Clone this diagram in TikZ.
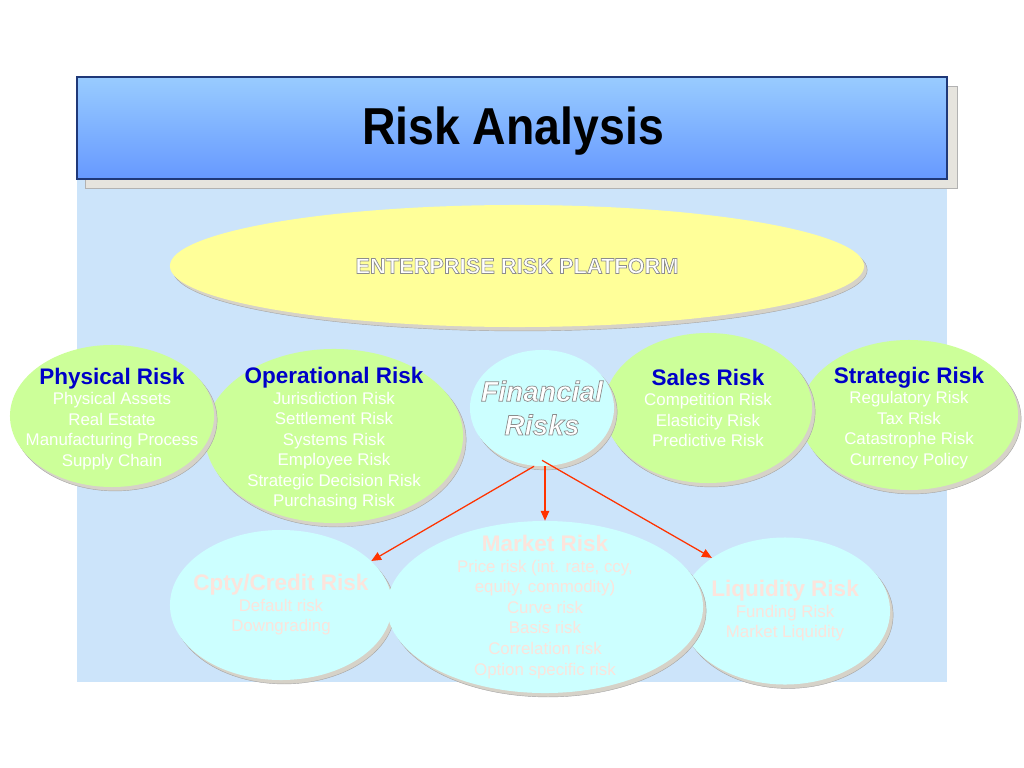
\documentclass[tikz,border=0pt]{standalone}
\usepackage{fontspec}
\setmainfont{Liberation Sans}
\usetikzlibrary{shapes.geometric,shadows,arrows.meta}

\definecolor{panelblue}{RGB}{204,228,250}
\definecolor{bartop}{RGB}{153,204,255}
\definecolor{barbottom}{RGB}{102,153,255}
\definecolor{barline}{RGB}{31,56,120}
\definecolor{shadowgray}{RGB}{214,210,200}
\definecolor{platyellow}{RGB}{255,255,153}
\definecolor{riskgreen}{RGB}{204,255,153}
\definecolor{riskcyan}{RGB}{204,255,255}
\definecolor{headblue}{RGB}{0,0,200}
\definecolor{palepink}{RGB}{252,228,220}
\definecolor{arrowred}{RGB}{255,51,0}

\tikzset{
  blob/.style={ellipse, inner sep=0pt,
    drop shadow={shadow xshift=2.2pt, shadow yshift=-2.8pt, fill=shadowgray, draw=gray!70, line width=0.3pt, opacity=1}},
  greenblob/.style={blob, fill=riskgreen},
  cyanblob/.style={blob, fill=riskcyan},
  itemtext/.style={align=center, text=white, font=\fontsize{12}{14.6}\selectfont},
  paletext/.style={itemtext, text=palepink},
  fanout/.style={draw=arrowred, line width=0.9pt, -{Triangle[length=7pt,width=6pt]}}
}
\newcommand{\headline}[1]{{\color{headblue}\fontsize{16}{19}\selectfont\bfseries #1}}
\newcommand{\palehead}[1]{{\fontsize{16}{19}\selectfont\bfseries #1}}
\newcommand{\outlined}[1]{\special{pdf:literal direct 2 Tr 0.5 w 0.55 0.55 0.55 RG}#1\special{pdf:literal direct 0 Tr}}

\begin{document}
\begin{tikzpicture}[x=0.025cm, y=-0.025cm]
\useasboundingbox (0,0) rectangle (1024,768);

% panel and title bar
\fill[panelblue] (77,179) rectangle (947,682);
\filldraw[fill=shadowgray!60, draw=gray!60] (85,86) rectangle (957,188);
\shadedraw[top color=bartop, bottom color=barbottom, draw=barline, line width=0.8pt] (77,77) rectangle (947,179);
\node[font=\fontsize{33}{36}\selectfont\bfseries] (title) at (513,131) {\scalebox{1}[1.12]{Risk Analysis}};

% platform
\node[blob, fill=platyellow, minimum width=17.35cm, minimum height=3.05cm] (erp) at (517,266) {};
\node[text=white, font=\fontsize{15.5}{18}\selectfont\bfseries] (erp-txt) at (erp) {\outlined{ENTERPRISE RISK PLATFORM}};

% upper row
\node[greenblob, minimum width=6.45cm, minimum height=4.35cm] (oper) at (334,436) {};
\node[greenblob, minimum width=5.1cm, minimum height=3.55cm] (phys) at (112,416) {};
\node[greenblob, minimum width=5.45cm, minimum height=3.75cm] (strat) at (909,415) {};
\node[greenblob, minimum width=5.2cm, minimum height=3.75cm] (sales) at (708,408) {};
\node[cyanblob, minimum width=3.6cm, minimum height=2.9cm] (fin) at (542,408) {};

\node[itemtext] (oper-txt) at ([yshift=-2pt]oper) {\headline{Operational Risk}\\ Jurisdiction Risk\\ Settlement Risk\\ Systems Risk\\ Employee Risk\\ Strategic Decision Risk\\ Purchasing Risk};
\node[itemtext] (phys-txt) at ([yshift=-2pt]phys) {\headline{Physical Risk}\\ Physical Assets\\ Real Estate\\ Manufacturing Process\\ Supply Chain};
\node[itemtext] (strat-txt) at ([yshift=-2pt]strat) {\headline{Strategic Risk}\\ Regulatory Risk\\ Tax Risk\\ Catastrophe Risk\\ Currency Policy};
\node[itemtext] (sales-txt) at (sales) {\headline{Sales Risk}\\ Competition Risk\\ Elasticity Risk\\ Predictive Risk};
\node[align=center, text=white, font=\fontsize{20}{24}\selectfont\bfseries\itshape] (fin-txt) at (fin) {\outlined{Financial}\\ \outlined{Risks}};

% lower row
\node[cyanblob, minimum width=5.55cm, minimum height=3.75cm] (cpty) at (281,605) {};
\node[cyanblob, minimum width=5.25cm, minimum height=3.675cm] (liq) at (785,611) {};
\node[cyanblob, minimum width=7.9cm, minimum height=4.3cm] (market) at (545,607) {};

\node[paletext] (cpty-txt) at (cpty) {\palehead{Cpty/Credit Risk}\\ Default risk\\ Downgrading};
\node[paletext] (liq-txt) at (liq) {\palehead{Liquidity Risk}\\ Funding Risk\\ Market Liquidity};
\node[paletext] (market-txt) at (market) {\palehead{Market Risk}\\ Price risk (int. rate, ccy,\\ equity, commodity)\\ Curve risk\\ Basis risk\\ Correlation risk\\ Option specific risk};

% arrows
\coordinate (fin-l) at ([xshift=-0.2cm]fin.south);
\coordinate (fin-r) at ([yshift=0.15cm]fin.south);
\draw[fanout] (fin-l) -- (cpty.26);
\draw[fanout] (fin.south -| market.north) -- (market.north);
\draw[fanout] (fin-r) -- (liq.144);

\end{tikzpicture}
\end{document}
